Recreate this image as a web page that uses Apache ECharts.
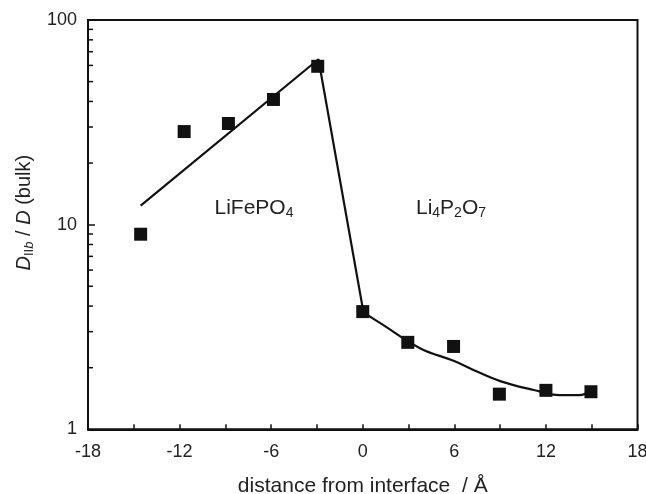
<!DOCTYPE html>
<html>
<head>
<meta charset="utf-8">
<script src="https://cdn.jsdelivr.net/npm/echarts@6/dist/echarts.min.js"></script>
<style>
html,body{margin:0;padding:0;background:#fff;}
#c{width:646px;height:494px;}
</style>
</head>
<body>
<div id="c"></div>
<script>
// measured data points (distance / Å, D||b / D(bulk))
const pointX = [-14.55, -11.7, -8.8, -5.85, -2.95, 0, 2.95, 5.95, 8.95, 12, 14.95];
const pointY = [8.98, 28.5, 31.2, 40.9, 59.4, 3.76, 2.66, 2.54, 1.485, 1.55, 1.526];
// fitted guide line: straight part (LiFePO4 side and drop)
const fitUpperX = [-14.55, -2.9, 0.05];
const fitUpperY = [12.4, 64.3, 3.72];
// smooth part (Li4P2O7 side)
const fitLowerX = [0.05, 1.1, 3.75, 5.95, 7.25, 9.0, 11.2, 12.9, 14.2, 14.9];
const fitLowerY = [3.72, 3.32, 2.49, 2.16, 1.95, 1.72, 1.556, 1.47, 1.47, 1.53];
// axis ticks
const xTicks = [-18, -12, -6, 0, 6, 12, 18];
const yTicks = [1, 10, 100];
const yMinorTicks = [2, 3, 4, 5, 6, 7, 8, 9, 20, 30, 40, 50, 60, 70, 80, 90];

const FONT = '"Liberation Sans", Arial, Helvetica, sans-serif';
const INK = '#111';

const chart = echarts.init(document.getElementById('c'));
chart.setOption({
  animation: false,
  backgroundColor: '#fff',
  grid: {
    left: 88, right: 8.5, top: 20, bottom: 64.7,
    outerBoundsMode: 'none', containLabel: false,
    show: true, borderColor: INK, borderWidth: 2, backgroundColor: 'transparent'
  },
  xAxis: {
    type: 'value', min: -18, max: 18, interval: 3,
    name: 'distance from interface  / Å',
    nameLocation: 'middle', nameGap: 46,
    nameTextStyle: { fontFamily: FONT, fontSize: 21, color: '#222' },
    axisLine: { show: true, onZero: false, lineStyle: { color: INK, width: 2 } },
    axisTick: { show: true, inside: true, length: 5, lineStyle: { color: INK, width: 1.5 } },
    axisLabel: {
      fontFamily: FONT, fontSize: 18, color: '#222', margin: 14,
      formatter: function (v) { return xTicks.indexOf(v) >= 0 ? String(v) : ''; }
    },
    splitLine: { show: false }
  },
  yAxis: {
    type: 'log', logBase: 10, min: 1, max: 100,
    name: '{i|D}{sub|II}{subi|b}{n| / }{i|D}{n| (bulk)}',
    nameLocation: 'middle', nameGap: 50,
    nameTextStyle: {
      fontFamily: FONT, fontSize: 20, color: '#222', padding: [0, 0, 0, 24],
      rich: {
        i: { fontFamily: FONT, fontSize: 20, fontStyle: 'italic', color: '#222', lineHeight: 24 },
        n: { fontFamily: FONT, fontSize: 20, color: '#222', lineHeight: 24 },
        sub: { fontFamily: FONT, fontSize: 13, color: '#222', lineHeight: 14, verticalAlign: 'bottom' },
        subi: { fontFamily: FONT, fontSize: 13, fontStyle: 'italic', color: '#222', lineHeight: 14, verticalAlign: 'bottom' }
      }
    },
    axisLine: { show: true, onZero: false, lineStyle: { color: INK, width: 2 } },
    axisTick: { show: true, inside: true, length: 7, lineStyle: { color: INK, width: 1.5 } },
    axisLabel: {
      fontFamily: FONT, fontSize: 18, color: '#222', margin: 11,
      formatter: function (v) { return yTicks.indexOf(Math.round(v)) >= 0 ? String(Math.round(v)) : ''; }
    },
    splitLine: { show: false },
    minorTick: { show: false }
  },
  graphic: [
    {
      type: 'text', x: 254, y: 208,
      style: {
        text: '{m|LiFePO}{s|4}',
        textAlign: 'center', textVerticalAlign: 'middle',
        rich: {
          m: { fontFamily: FONT, fontSize: 21, fill: '#222', lineHeight: 24 },
          s: { fontFamily: FONT, fontSize: 14, fill: '#222', lineHeight: 14, verticalAlign: 'bottom' }
        }
      }
    },
    {
      type: 'text', x: 451, y: 208,
      style: {
        text: '{m|Li}{s|4}{m|P}{s|2}{m|O}{s|7}',
        textAlign: 'center', textVerticalAlign: 'middle',
        rich: {
          m: { fontFamily: FONT, fontSize: 21, fill: '#222', lineHeight: 24 },
          s: { fontFamily: FONT, fontSize: 14, fill: '#222', lineHeight: 14, verticalAlign: 'bottom' }
        }
      }
    }
  ],
  series: [
    {
      type: 'custom',
      silent: true,
      clip: false,
      data: yMinorTicks.map(function (v) { return [-18, v]; }),
      encode: { x: 0, y: 1 },
      renderItem: function (params, api) {
        const p = api.coord([api.value(0), api.value(1)]);
        return {
          type: 'line',
          shape: { x1: p[0], y1: p[1], x2: p[0] + 5, y2: p[1] },
          style: { stroke: INK, lineWidth: 1.5 }
        };
      },
      z: 1
    },
    {
      type: 'line',
      data: fitUpperX.map(function (x, i) { return [x, fitUpperY[i]]; }),
      showSymbol: false,
      lineStyle: { color: INK, width: 2.2 },
      silent: true,
      z: 2
    },
    {
      type: 'line',
      data: fitLowerX.map(function (x, i) { return [x, fitLowerY[i]]; }),
      showSymbol: false,
      smooth: 0.4,
      lineStyle: { color: INK, width: 2.2 },
      silent: true,
      z: 2
    },
    {
      type: 'scatter',
      data: pointX.map(function (x, i) { return [x, pointY[i]]; }),
      symbol: 'rect',
      symbolSize: 13,
      itemStyle: { color: INK, opacity: 1 },
      silent: true,
      z: 3
    }
  ]
});
</script>
</body>
</html>
